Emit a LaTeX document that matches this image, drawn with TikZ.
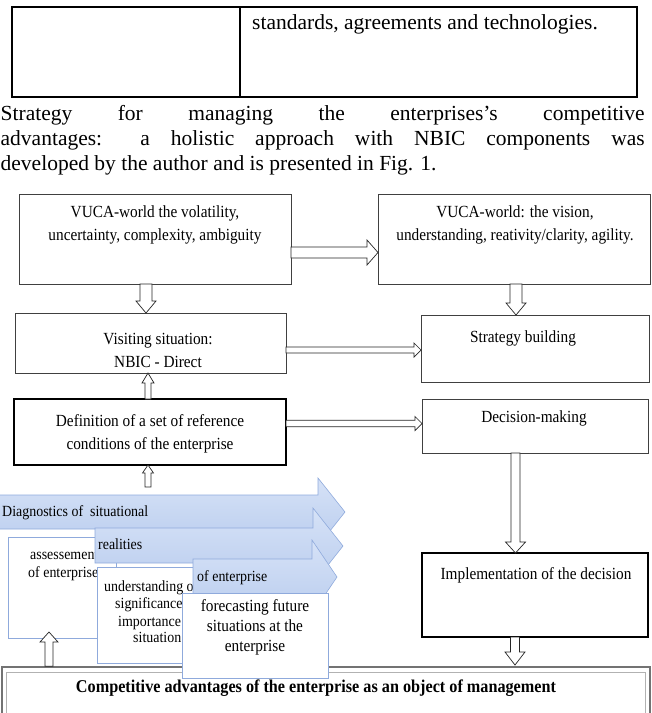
\documentclass[tikz,border=0pt]{standalone}
\usepackage{fontspec}
\setmainfont{Liberation Serif}
\newfontfamily\cond[FakeStretch=0.9]{Liberation Serif}
\usetikzlibrary{calc}
\definecolor{chevT}{RGB}{214,226,247}
\definecolor{chevB}{RGB}{186,205,238}
\definecolor{chevE}{RGB}{143,170,220}
\definecolor{boxE}{RGB}{143,170,220}
\newcommand\rarr[5]{\draw[blk] let \p1=#1, \p2=#2 in (\x1,\y1+#3pt) -- (\x2-#5pt,\y1+#3pt) -- (\x2-#5pt,\y1+#4pt) -- (\x2,\y1) -- (\x2-#5pt,\y1-#4pt) -- (\x2-#5pt,\y1-#3pt) -- (\x1,\y1-#3pt) -- cycle;}
\newcommand\darr[5]{\draw[blk] let \p1=#1, \p2=#2 in (\x1-#3pt,\y1) -- (\x1-#3pt,\y2+#5pt) -- (\x1-#4pt,\y2+#5pt) -- (\x1,\y2) -- (\x1+#4pt,\y2+#5pt) -- (\x1+#3pt,\y2+#5pt) -- (\x1+#3pt,\y1) -- cycle;}
\newcommand\uarr[5]{\draw[blk] let \p1=#1, \p2=#2 in (\x1-#3pt,\y1) -- (\x1-#3pt,\y2-#5pt) -- (\x1-#4pt,\y2-#5pt) -- (\x1,\y2) -- (\x1+#4pt,\y2-#5pt) -- (\x1+#3pt,\y2-#5pt) -- (\x1+#3pt,\y1) -- cycle;}
\tikzset{
 bx/.style={draw=black!75, line width=0.9pt, fill=white, inner sep=0pt, outer sep=0pt},
 bxk/.style={draw=black, line width=1.3pt, fill=white, inner sep=0pt, outer sep=0pt},
 bbx/.style={draw=boxE, line width=0.9pt, fill=white, inner sep=0pt, outer sep=0pt},
 tbl/.style={draw=black, line width=2pt, inner sep=0pt, outer sep=0pt},
 blk/.style={draw=black!85, fill=white, line width=0.7pt},
 chev/.style={draw=chevE, line width=0.6pt, top color=chevT, bottom color=chevB},
 dtxt/.style={font=\cond\fontsize{17}{23}\selectfont, align=center, inner sep=0pt},
 stxt/.style={font=\cond\fontsize{15.5}{18}\selectfont, inner sep=0pt, anchor=base west},
 btxt/.style={font=\cond\fontsize{15.5}{17}\selectfont, inner sep=0pt, anchor=base west},
 ctxt/.style={font=\fontsize{21.5}{25}\selectfont, inner sep=0pt, anchor=base west},
}
\begin{document}
\begin{tikzpicture}[x=1pt,y=-1pt]
\useasboundingbox (0,0) rectangle (652,713);
\clip (0,0) rectangle (652,713);
% table and caption
\node[tbl, minimum width=228pt, minimum height=90pt] (tL) at (126,52) {};
\node[tbl, minimum width=397pt, minimum height=90pt] (tR) at (438.5,52) {};
\node[ctxt] (tRt) at (252,29) {standards, agreements and technologies.};
\node[ctxt] (cap1) at (0.5,120) {\makebox[644pt][s]{Strategy for managing the enterprises's competitive}};
\node[ctxt] (cap2) at (0.5,145) {\makebox[644pt][s]{advantages: a holistic approach with NBIC components was}};
\node[ctxt] (cap3) at (0.5,170) {developed by the author and is presented in Fig. 1.};
% main boxes
\node[bx, minimum width=272pt, minimum height=90pt] (A) at (155,239) {};
\node[dtxt] (At) at (155,224.5) {VUCA-world the volatility,\\uncertainty, complexity, ambiguity};
\node[bx, minimum width=272pt, minimum height=90pt] (B) at (514,239) {};
\node[dtxt] (Bt) at (515,224.5) {VUCA-world: the vision,\\understanding, reativity/clarity, agility.};
\node[bx, minimum width=271pt, minimum height=60pt] (V) at (150.5,343) {};
\node[dtxt] (Vt) at (158,350) {Visiting situation:\\NBIC - Direct};
\node[bx, minimum width=228pt, minimum height=67pt] (S) at (535,348.5) {};
\node[dtxt] (St) at (523,338) {Strategy building};
\node[bxk, minimum width=272pt, minimum height=66pt] (D) at (150,432) {};
\node[dtxt] (Dt) at (150,433.5) {Definition of a set of reference\\conditions of the enterprise};
\node[bx, minimum width=226pt, minimum height=54pt] (M) at (535,426) {};
\node[dtxt] (Mt) at (534,418) {Decision-making};
\node[bxk, minimum width=226pt, minimum height=84pt] (I) at (535,595) {};
\node[dtxt] (It) at (536,575) {Implementation of the decision};
% arrows between main boxes
\rarr{(A.east |- 0,252.5)}{(B.west |- 0,252.5)}{5.5}{12.5}{11}
\darr{(146,0 |- A.south)}{(146,0 |- V.north)}{6}{10}{12}
\darr{(516,0 |- B.south)}{(516,0 |- S.north)}{6}{10}{12}
\rarr{(V.east |- 0,350)}{(S.west |- 0,350)}{3}{7}{7}
\uarr{(148,0 |- D.north)}{(148,0 |- V.south)}{3}{6}{10}
\rarr{(D.east |- 0,423.5)}{(M.west |- 0,423.5)}{3.3}{7}{7}
\darr{(515.5,0 |- M.south)}{(515.5,0 |- I.north)}{4.5}{10}{11}
\coordinate (ch1top) at (148,487);
\uarr{(ch1top)}{(148,0 |- D.south)}{3}{5.5}{8}
% competitive box
\node[draw=black!55, line width=1.6pt, fill=white, inner sep=0pt, minimum width=648pt, minimum height=60pt] (C) at (326,697) {};
\node[draw=black!30, line width=0.6pt, inner sep=0pt, minimum width=639pt, minimum height=60pt] (Cin) at (325.5,702) {};
\node[font=\cond\bfseries\fontsize{18}{20}\selectfont, anchor=base, inner sep=0pt] (Ct) at (316,692) {Competitive advantages of the enterprise as an object of management};
\darr{(515,0 |- I.south)}{(515,665)}{4.5}{10}{13}
% staggered process
\path[chev] (-5,495) -- (318,495) -- (318,478) -- (345,512) -- (318,546) -- (318,529) -- (-5,529) -- cycle;
\node[stxt] (ch1t) at (2,516) {Diagnostics of \ situational};
\node[bbx, minimum width=108pt, minimum height=101pt] (b1) at (62,587.5) {};
\node[btxt] (b1a) at (30,559) {assessement};
\node[btxt] (b1b) at (28,577) {of enterprise};
\path[chev] (95,528) -- (313,528) -- (313,508) -- (343,546) -- (313,584) -- (313,563) -- (95,563) -- cycle;
\node[stxt] (ch2t) at (98,549) {realities};
\node[bbx, minimum width=108pt, minimum height=96pt] (b2) at (151,615) {};
\node[btxt] (b2a) at (104,591) {understanding of};
\node[btxt] (b2b) at (115,608) {significance};
\node[btxt] (b2c) at (118,626) {importance};
\node[btxt] (b2d) at (133,642) {situation};
\path[chev] (193,559) -- (312,559) -- (312,540) -- (337,577) -- (312,614) -- (312,595) -- (193,595) -- cycle;
\node[stxt] (ch3t) at (197,581) {of enterprise};
\node[bbx, minimum width=146pt, minimum height=85pt] (b3) at (255,635.5) {};
\node[dtxt, font=\cond\fontsize{17}{20}\selectfont] (b3t) at (255,627.5) {forecasting future\\situations at the\\enterprise};
\uarr{(49,0 |- C.north)}{(49,632)}{4}{9}{10}
\end{tikzpicture}
\end{document}
